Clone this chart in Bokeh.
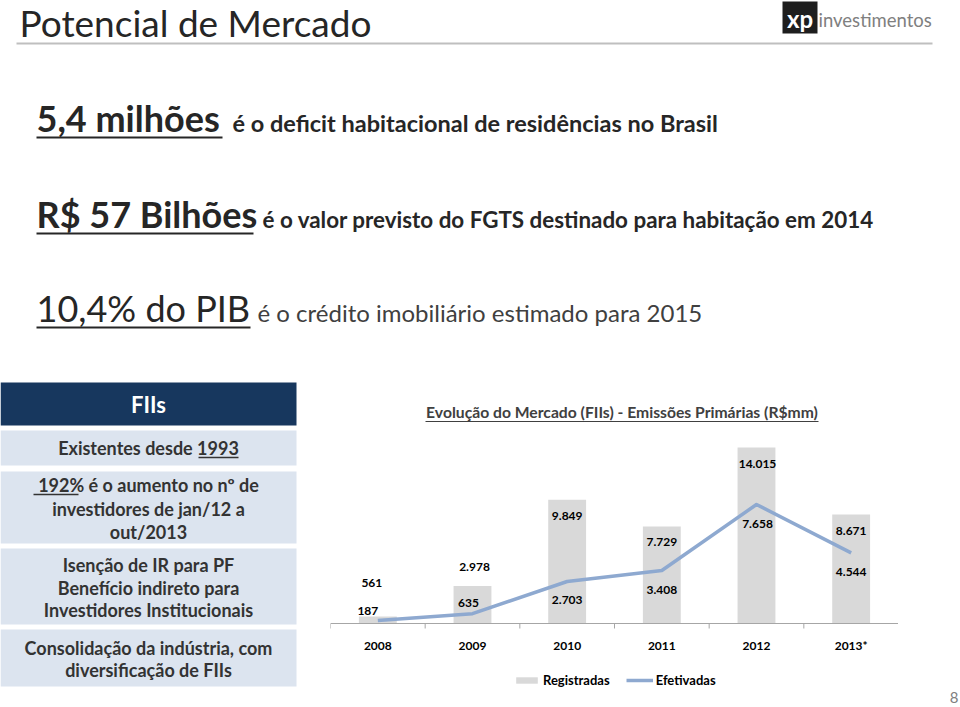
from bokeh.plotting import figure
from bokeh.models import Range1d, FactorRange, ColumnDataSource, Legend, LegendItem
from bokeh.transform import dodge
from bokeh.layouts import column, row
from bokeh.embed import file_html
from bokeh.resources import INLINE
from bokeh.core.properties import value

# ---------------- data ----------------
years = ["2008", "2009", "2010", "2011", "2012", "2013*"]
registradas = [561, 2978, 9849, 7729, 14015, 8671]
efetivadas = [187, 635, 2703, 3408, 7658, 4544]

chart_title = "Evolução do Mercado (FIIs) - Emissões Primárias (R$mm)"
slide_title = "Potencial de Mercado"
headlines = ["5,4 milhões", "R$ 57 Bilhões", "10,4% do PIB "]
headline_rest = ["é o deficit habitacional de residências no Brasil",
                 "é o valor previsto do FGTS destinado para habitação em 2014",
                 "é o crédito imobiliário estimado para 2015"]
panel_header = "FIIs"
panel_lines = [["Existentes desde 1993"],
               ["192% é o aumento no nº de", "investidores de jan/12 a", "out/2013"],
               ["Isenção de IR para PF", "Benefício indireto para", "Investidores Institucionais"],
               ["Consolidação da indústria, com", "diversificação de FIIs"]]


def fmt(v):
    return f"{v:,}".replace(",", ".")


FONT = "Lato"
DARK = "#262626"
TXT = "#333333"
BAR = "#D9D9D9"
LINE = "#8EA9D0"

W, H = 960, 707
SPLIT = 370


def base_fig(w, h, xr, yr):
    p = figure(width=w, height=h, x_range=xr, y_range=yr, output_backend="svg",
               toolbar_location=None, min_border=0,
               x_axis_location=None, y_axis_location=None)
    p.grid.visible = False
    p.outline_line_color = None
    p.background_fill_color = "white"
    p.border_fill_color = "white"
    return p


# ---------------- top: title + headlines ----------------
top = base_fig(W, SPLIT, Range1d(0, W), Range1d(SPLIT, 0))
top.text(x=[19], y=[22], text=[slide_title], text_font=value(FONT), text_font_size="37px",
         text_color=DARK, text_baseline="middle")
top.segment(x0=[16], x1=[932], y0=[43], y1=[43], line_color="#BFBFBF", line_width=2)
# logo
top.quad(left=[782], right=[817], top=[1], bottom=[33], fill_color="#1E1E1E", line_color=None)
top.text(x=[799.5], y=[18], text=["xp"], text_font=value(FONT), text_font_size="24px",
         text_font_style="bold", text_color="white", text_align="center", text_baseline="middle")
top.text(x=[818], y=[19], text=["investimentos"], text_font=value(FONT), text_font_size="18.5px",
         text_color="#808080", text_baseline="middle")

big_x = 36
big_mid = [117, 213, 307]
ul_y = [137, 233, 327]
big_ul_end = [222, 253, 250]
rest_x = [232, 262, 257]
rest_mid = [122.5, 218.5, 312]
big_style = ["bold", "bold", "normal"]
rest_style = ["bold", "bold", "normal"]
rest_size = ["23.5px", "22.4px", "24px"]
rest_color = [DARK, DARK, "#404040"]
for i in range(3):
    top.text(x=[big_x], y=[big_mid[i]], text=[headlines[i]], text_font=value(FONT),
             text_font_size="36px", text_font_style=big_style[i], text_color=DARK,
             text_baseline="middle")
    top.segment(x0=[big_x], x1=[big_ul_end[i]], y0=[ul_y[i]], y1=[ul_y[i]],
                line_color=DARK, line_width=2)
    top.text(x=[rest_x[i]], y=[rest_mid[i]], text=[headline_rest[i]], text_font=value(FONT),
             text_font_size=rest_size[i], text_font_style=rest_style[i], text_color=rest_color[i],
             text_baseline="middle")

# ---------------- left panel ----------------
X0, X1 = 330, 898
left = base_fig(X0, H - SPLIT, Range1d(0, X0), Range1d(H, SPLIT))
left.quad(left=[0], right=[296], top=[382], bottom=[425], fill_color="#17375E", line_color=None)
left.text(x=[148], y=[404], text=[panel_header], text_font=value(FONT), text_font_size="22px",
          text_font_style="bold", text_color="white", text_align="center", text_baseline="middle")
box_top = [430, 471, 548, 629]
box_bot = [465, 543, 624, 686]
left.quad(left=[0] * 4, right=[296] * 4, top=box_top, bottom=box_bot,
          fill_color="#DCE4EF", line_color=None)
line_y = [[447], [484, 508, 531], [564, 587, 609], [647, 669]]
for lines, ys in zip(panel_lines, line_y):
    left.text(x=[148] * len(lines), y=ys, text=lines, text_font=value(FONT),
              text_font_size="18px", text_font_style="bold", text_color=TXT,
              text_align="center", text_baseline="middle")
# underlines for "1993" and "192%"
left.segment(x0=[198, 33], x1=[238, 78], y0=[457, 494], y1=[457, 494], line_color=TXT, line_width=1.3)

# ---------------- chart ----------------
k1 = 176 / 14015.0     # px per unit, bars
k2 = 119 / 7658.0      # px per unit, line (secondary axis)
base_px, top_px, bot_px = 623, SPLIT, H
CW = (X1 - X0) / len(years)


def cpos(px):
    """image pixel x -> (factor, offset) categorical coordinate"""
    u = (px - X0) / CW
    i = max(0, min(int(u), len(years) - 1))
    return (years[i], u - i - 0.5)


ch = figure(width=X1 - X0, height=bot_px - top_px, x_range=FactorRange(*years),
            y_range=Range1d(-(bot_px - base_px) / k1, (base_px - top_px) / k1),
            output_backend="svg", toolbar_location=None, min_border=0,
            x_axis_location=None, y_axis_location=None)
ch.x_range.range_padding = 0
ch.extra_y_ranges = {"y2": Range1d(-(bot_px - base_px) / k2, (base_px - top_px) / k2),
                     "py": Range1d(bot_px, top_px)}
ch.grid.visible = False
ch.outline_line_color = None
ch.background_fill_color = "white"
ch.border_fill_color = "white"

src = ColumnDataSource(dict(
    year=years, reg=registradas, efe=efetivadas,
    reg_lab=[fmt(v) for v in registradas], efe_lab=[fmt(v) for v in efetivadas],
    reg_dx=[-6, 2, 0, 0, 1, 0], reg_dy=[-33, -19, 16, 16, 16, 16],
    efe_dx=[-10, -4, 0, 0, 1, 0], efe_dy=[-10, -11, 19, 19, 19, 19],
))

bars = ch.vbar(x="year", top="reg", width=0.4, source=src, fill_color=BAR, line_color=None)
ln = ch.line(x="year", y="efe", source=src, y_range_name="y2", line_color=LINE,
             line_width=3.5, line_join="round")

ch.text(x="year", y="reg", text="reg_lab", x_offset="reg_dx", y_offset="reg_dy", source=src,
        text_font=value(FONT), text_font_size="12px", text_font_style="bold",
        text_color="black", text_align="center", text_baseline="middle")
ch.text(x="year", y="efe", text="efe_lab", x_offset="efe_dx", y_offset="efe_dy", source=src,
        y_range_name="y2", text_font=value(FONT), text_font_size="12px", text_font_style="bold",
        text_color="black", text_align="center", text_baseline="middle")

# axis line, boundary ticks, category labels
ch.segment(x0=[cpos(X0)], x1=[cpos(X1)], y0=[base_px], y1=[base_px], y_range_name="py",
           line_color="#A6A6A6", line_width=1)
ch.segment(x0=[cpos(X0)], x1=[cpos(X0)], y0=[base_px], y1=[base_px + 5], y_range_name="py",
           line_color="#A6A6A6", line_width=1)
ch.segment(x0=dodge("year", 0.5, range=ch.x_range), x1=dodge("year", 0.5, range=ch.x_range),
           y0=base_px, y1=base_px + 5, y_range_name="py", source=src,
           line_color="#A6A6A6", line_width=1)
ch.text(x="year", y=645, text="year", y_range_name="py", source=src,
        text_font=value(FONT), text_font_size="12px", text_font_style="bold",
        text_color="black", text_align="center", text_baseline="middle")

# chart title
ch.text(x=[cpos(621.5)], y=[411], text=[chart_title], y_range_name="py",
        text_font=value(FONT), text_font_size="15.7px", text_font_style="bold",
        text_color="#404040", text_align="center", text_baseline="middle")
ch.segment(x0=[cpos(425)], x1=[cpos(818)], y0=[421], y1=[421], y_range_name="py",
           line_color="#404040", line_width=1.2)

legend = Legend(items=[LegendItem(label="Registradas", renderers=[bars]),
                       LegendItem(label="Efetivadas", renderers=[ln])],
                location=(183, 19), orientation="horizontal",
                glyph_width=27, glyph_height=8, label_standoff=3, spacing=16,
                padding=0, margin=0, border_line_color=None, background_fill_alpha=0,
                label_text_font=FONT, label_text_font_size="13px",
                label_text_font_style="bold", label_text_color="black")
ch.add_layout(legend)

# ---------------- right strip (page number) ----------------
right = base_fig(W - X1, bot_px - top_px, Range1d(X1, W), Range1d(bot_px, top_px))
right.text(x=[958], y=[697], text=["8"], text_font=value(FONT), text_font_size="15px",
           text_color="#808080", text_align="right", text_baseline="middle")

layout = column(top, row(left, ch, right, spacing=0), spacing=0)
open("out.html", "w").write(file_html(layout, INLINE))
